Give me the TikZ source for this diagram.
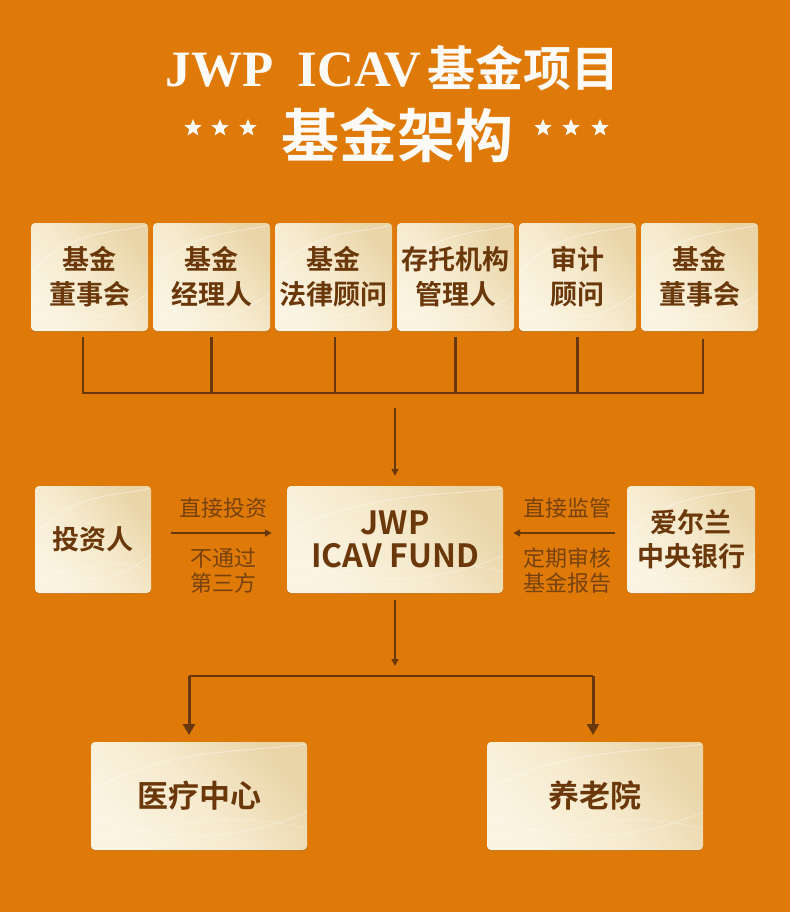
\documentclass[tikz,border=0pt]{standalone}
\usepackage{fontspec}
\setmainfont{Noto Sans CJK SC}[BoldFont=* Bold]
\newfontfamily\titlelatin{Liberation Serif Bold}
\newfontfamily\titlecjk{Noto Sans CJK SC Bold}
\usetikzlibrary{shapes.geometric,arrows.meta,shadows,calc}
\definecolor{bgorange}{RGB}{223,122,8}
\definecolor{boxlight}{RGB}{251,244,226}
\definecolor{boxmid}{RGB}{246,234,205}
\definecolor{boxdark}{RGB}{233,213,168}
\definecolor{linebrown}{RGB}{104,56,12}
\definecolor{textbrown}{RGB}{106,56,10}
\definecolor{labelbrown}{RGB}{120,66,14}
\definecolor{titlewhite}{RGB}{252,250,247}
\begin{document}
\begin{tikzpicture}[x=1pt,y=-1pt,
  box/.style={rounded corners=4pt, inner sep=0pt,
    top color=boxdark, bottom color=boxlight, middle color=boxmid, shading angle=-50,
    text=textbrown, align=center,
    drop shadow={shadow xshift=0pt,shadow yshift=-1pt,opacity=0.2,fill=black!70},
    path picture={
      \draw[white,opacity=0.45,line width=0.8pt]
        let \p1=(path picture bounding box.south west),
            \p2=(path picture bounding box.north east) in
        (\x1,{\y1+0.55*(\y2-\y1)}) .. controls ({\x1+0.35*(\x2-\x1)},{\y1+0.95*(\y2-\y1)}) and ({\x1+0.7*(\x2-\x1)},{\y1+0.9*(\y2-\y1)}) .. (\x2,{\y1+0.98*(\y2-\y1)});
      \draw[white,opacity=0.4,line width=0.7pt]
        let \p1=(path picture bounding box.south west),
            \p2=(path picture bounding box.north east) in
        (\x1,{\y1+0.3*(\y2-\y1)}) .. controls ({\x1+0.4*(\x2-\x1)},{\y1+0.05*(\y2-\y1)}) and ({\x1+0.7*(\x2-\x1)},{\y1+0.1*(\y2-\y1)}) .. (\x2,{\y1+0.35*(\y2-\y1)});
      \draw[white,opacity=0.35,line width=0.6pt]
        let \p1=(path picture bounding box.south west),
            \p2=(path picture bounding box.north east) in
        (\x1,{\y1+0.12*(\y2-\y1)}) .. controls ({\x1+0.4*(\x2-\x1)},{\y1+0.25*(\y2-\y1)}) and ({\x1+0.7*(\x2-\x1)},{\y1+0.35*(\y2-\y1)}) .. (\x2,{\y1+0.2*(\y2-\y1)});
    }},
  topbox/.style={box, minimum width=117pt, minimum height=108pt,
    font=\fontsize{27}{35}\selectfont\bfseries},
  conn/.style={draw=linebrown, line width=2.8pt, line join=miter},
  thinarrow/.style={draw=linebrown, line width=1.6pt, -{Triangle[length=7pt,width=7pt]}},
  thickarrow/.style={draw=linebrown, line width=3pt, -{Triangle[length=11pt,width=12pt]}},
  lbl/.style={text=labelbrown, font=\fontsize{22}{25}\selectfont, align=center, inner sep=0pt},
  startitle/.style={star, star points=5, star point ratio=2.3, fill=titlewhite, draw=none, minimum size=18pt, inner sep=0pt},
  titletext/.style={text=titlewhite, inner sep=0pt}
]
\useasboundingbox (0,0) rectangle (790,912);
\fill[bgorange] (0,0) rectangle (790,912);

% title
\node[titletext, anchor=base] (t1) at (392.5,87)
  {{\fontsize{51}{60}\selectfont\titlelatin JWP\hspace{24pt}ICAV}\hspace{6pt}{\fontsize{48}{55}\selectfont\titlecjk 基金项目}};
\node[titletext, font=\fontsize{58}{60}\selectfont\titlecjk] (t2) at (397.5,135) {基金架构};
\node[startitle] (s1) at (193,128) {};
\node[startitle] (s2) at (220,128) {};
\node[startitle] (s3) at (248,128) {};
\node[startitle] (s4) at (543,128) {};
\node[startitle] (s5) at (571,128) {};
\node[startitle] (s6) at (600,128) {};

% top row
\node[topbox] (b1) at (89.5,277) {基金\\董事会};
\node[topbox] (b2) at (211.5,277) {基金\\经理人};
\node[topbox] (b3) at (333.5,277) {基金\\法律顾问};
\node[topbox] (b4) at (455.5,277) {存托机构\\管理人};
\node[topbox] (b5) at (577.5,277) {审计\\顾问};
\node[topbox] (b6) at (699.5,277) {基金\\董事会};

\coordinate (busL) at (83,393);
\coordinate (busR) at (703,393);
\draw[conn] ([xshift=-6.5pt,yshift=-6pt]b1.south) -- (busL) -- (busR) -- ([xshift=3.5pt,yshift=-8pt]b6.south);
\draw[conn] ([yshift=-6pt]b2.south) -- (b2.south |- busL);
\draw[conn] ([xshift=1.5pt,yshift=-6pt]b3.south) -- ([xshift=1.5pt]b3.south |- busL);
\draw[conn] ([yshift=-6pt]b4.south) -- (b4.south |- busL);
\draw[conn] ([yshift=-6pt]b5.south) -- (b5.south |- busL);

% middle row
\node[box, minimum width=116pt, minimum height=107pt, font=\fontsize{27}{34}\selectfont\bfseries] (inv) at (93,539.5) {投资人};
\node[box, minimum width=216pt, minimum height=107pt, font=\fontsize{32}{33}\selectfont\bfseries] (jwp) at (395,539.5) {JWP\\ICAV FUND};
\node[box, minimum width=128pt, minimum height=107pt, font=\fontsize{27}{34}\selectfont\bfseries] (irl) at (691,539.5) {爱尔兰\\中央银行};

\coordinate (toparr) at (395,408);
\draw[thinarrow] (toparr) -- ([yshift=10pt]jwp.north);

\draw[thinarrow] ([xshift=20pt,yshift=6.5pt]inv.east) -- ([xshift=-15pt,yshift=6.5pt]jwp.west);
\draw[thinarrow] ([xshift=-12pt,yshift=6.5pt]irl.west) -- ([xshift=10pt,yshift=6.5pt]jwp.east);

\node[lbl] (l1) at (223,508) {直接投资};
\node[lbl] (l2) at (223,570.5) {不通过\\第三方};
\node[lbl] (l3) at (567,508) {直接监管};
\node[lbl] (l4) at (567,570.5) {定期审核\\基金报告};

% bottom
\node[box, minimum width=216pt, minimum height=108pt, font=\fontsize{31}{34}\selectfont\bfseries] (med) at (199,796) {医疗中心};
\node[box, minimum width=216pt, minimum height=108pt, font=\fontsize{31}{34}\selectfont\bfseries] (nur) at (595,796) {养老院};

\coordinate (downarr) at (395,666);
\draw[thinarrow] ([yshift=-7pt]jwp.south) -- (downarr);

\coordinate (bl) at (189,676);
\coordinate (br) at (593,676);
\coordinate (medtip) at (189,735);
\coordinate (nurtip) at (593,735);
\draw[conn] (bl) -- (br);
\draw[thickarrow] (bl) -- (medtip);
\draw[thickarrow] (br) -- (nurtip);
\end{tikzpicture}
\end{document}
